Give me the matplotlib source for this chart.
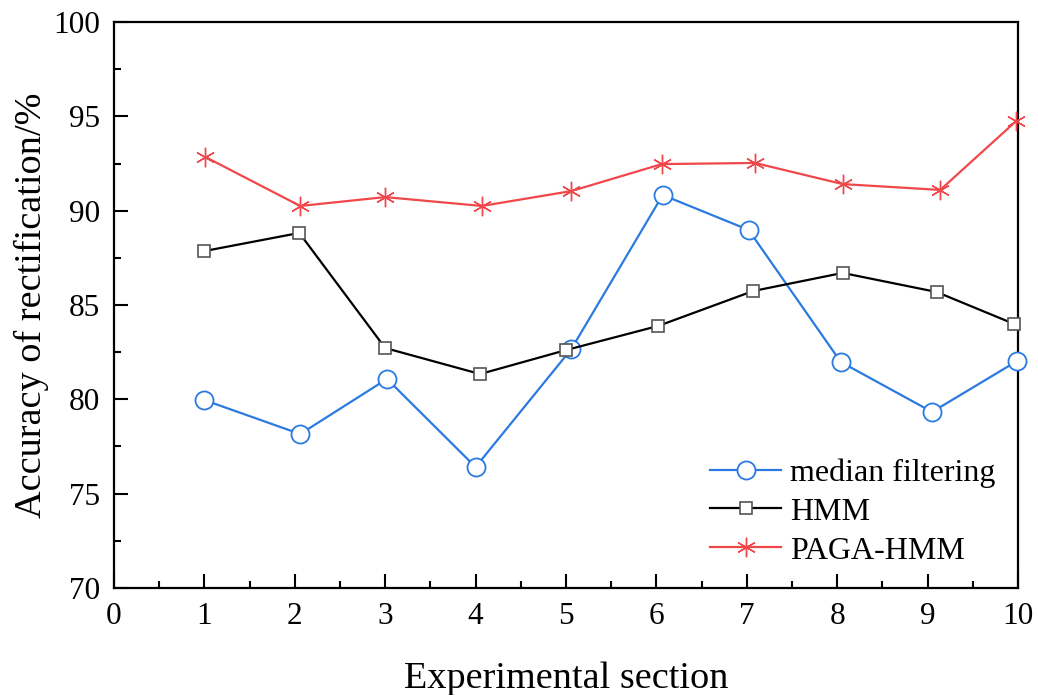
import matplotlib
matplotlib.use("Agg")
import matplotlib.pyplot as plt
from matplotlib.ticker import MultipleLocator

plt.rcParams['font.family'] = ['Liberation Serif', 'DejaVu Serif']
plt.rcParams['mathtext.fontset'] = 'stix'

# Data
x_median = [1.0, 2.06, 3.02, 4.0, 5.06, 6.07, 7.02, 8.04, 9.05, 9.99]
y_median = [79.96, 78.16, 81.08, 76.41, 82.67, 90.83, 88.98, 81.98, 79.33, 82.03]

x_hmm = [1.0, 2.05, 3.0, 4.05, 5.0, 6.02, 7.07, 8.06, 9.1, 9.96]
y_hmm = [87.86, 88.82, 82.72, 81.34, 82.61, 83.89, 85.74, 86.70, 85.69, 83.99]

x_paga = [1.01, 2.06, 3.0, 4.07, 5.06, 6.06, 7.09, 8.06, 9.14, 9.98]
y_paga = [92.85, 90.25, 90.72, 90.25, 91.04, 92.47, 92.53, 91.41, 91.10, 94.75]

labels = ['median filtering', 'HMM', 'PAGA-HMM']
xlabel = 'Experimental section'
ylabel = 'Accuracy of rectification/%'

fig = plt.figure(figsize=(10.38, 6.95), dpi=100)
ax = fig.add_axes([0.1098, 0.154, 0.8709, 0.8143])

ax.plot(x_median, y_median, color='#2a7ae2', lw=1.6, marker='o', ms=13,
        mfc='white', mec='#2a7ae2', mew=1.3, label=labels[0], clip_on=False, zorder=3)
ax.plot(x_hmm, y_hmm, color='black', lw=1.6, marker='s', ms=8.5,
        mfc='white', mec='#555555', mew=1.2, label=labels[1], clip_on=False, zorder=4)
ax.plot(x_paga, y_paga, color='#f0474a', lw=1.6, marker=(6, 2, 0), ms=14,
        mec='#f0474a', mew=1.0, label=labels[2], clip_on=False, zorder=5)

ax.set_xlim(0, 10)
ax.set_ylim(70, 100)
ax.xaxis.set_major_locator(MultipleLocator(1))
ax.xaxis.set_minor_locator(MultipleLocator(0.5))
ax.yaxis.set_major_locator(MultipleLocator(5))
ax.yaxis.set_minor_locator(MultipleLocator(2.5))

ax.tick_params(which='both', direction='in', width=1.5, top=False, right=False,
               labelsize=22.5, pad=10)
ax.tick_params(which='major', length=10)
ax.tick_params(which='minor', length=5)
for s in ax.spines.values():
    s.set_linewidth(1.6)

ax.set_xlabel(xlabel, fontsize=27.5, labelpad=22)
ax.set_ylabel(ylabel, fontsize=27.5, labelpad=3)

ax.legend(loc='lower right', frameon=False, fontsize=23, handlelength=2.2,
          handletextpad=0.3, labelspacing=0.3, borderaxespad=0.3,
          bbox_to_anchor=(1.0, 0.0))

fig.savefig('out.png', dpi=100)
